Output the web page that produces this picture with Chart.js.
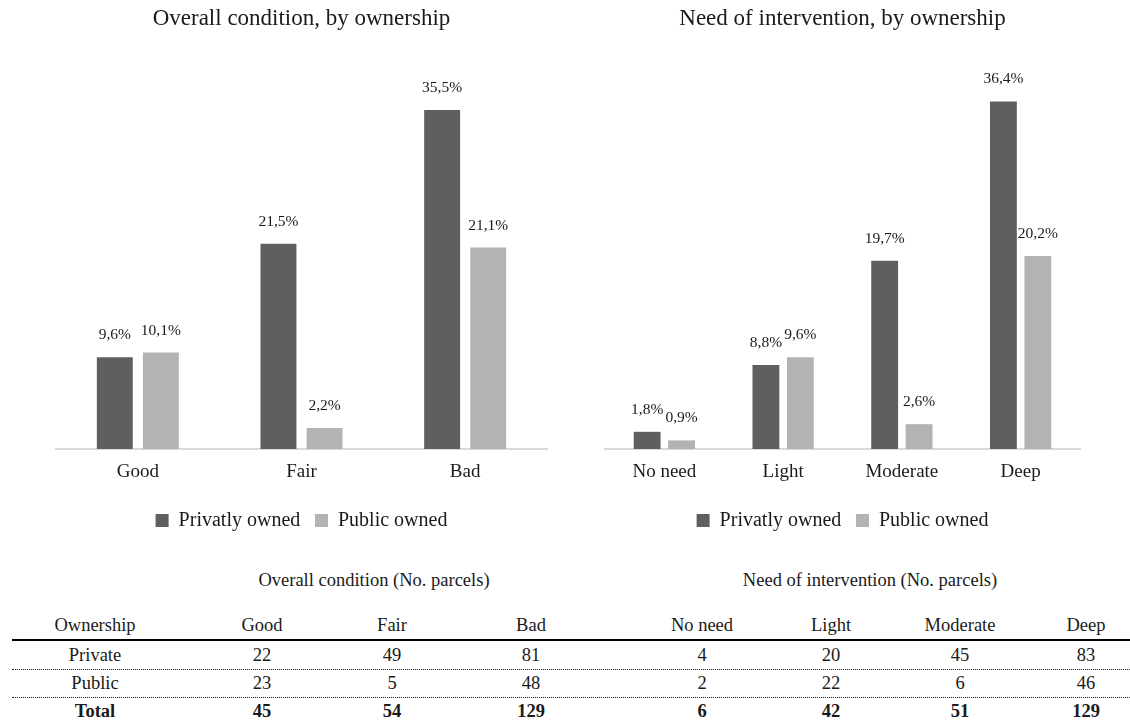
<!DOCTYPE html>
<html>
<head>
<meta charset="utf-8">
<script src="https://cdn.jsdelivr.net/npm/chart.js@4.4.1/dist/chart.umd.min.js"></script>
<style>
  html, body { margin: 0; padding: 0; background: #fff; }
  body { width: 1130px; height: 720px; position: relative; overflow: hidden;
         font-family: "Liberation Serif", serif; color: #1a1a1a; }
  .chart { position: absolute; top: 0; width: 565px; height: 545px; }
  #left { left: 0; }
  #right { left: 565px; }
  .cell { position: absolute; transform: translate(-50%, -50%); white-space: nowrap; font-size: 18.5px; line-height: 1; }
  .bold { font-weight: bold; }
  .rule { position: absolute; left: 12px; right: 0; height: 0; }
  .thick { border-top: 2px solid #000; }
  .dotted { border-top: 1px dotted #222; }
</style>
</head>
<body>
<div class="chart" id="left"><canvas id="condChart" width="565" height="545"></canvas></div>
<div class="chart" id="right"><canvas id="intvChart" width="565" height="545"></canvas></div>
<div id="table"></div>

<script>
// ---- chart data (shares of all parcels, %) ----
const conditionCategories = ['Good', 'Fair', 'Bad'];
const conditionPrivatePct = [9.6, 21.5, 35.5];
const conditionPublicPct  = [10.1, 2.2, 21.1];

const interventionCategories = ['No need', 'Light', 'Moderate', 'Deep'];
const interventionPrivatePct = [1.8, 8.8, 19.7, 36.4];
const interventionPublicPct  = [0.9, 9.6, 2.6, 20.2];

const seriesNames = ['Privatly owned', 'Public owned'];

// ---- table data (number of parcels) ----
const ownershipHeader = 'Ownership';
const tableRowNames = ['Private', 'Public', 'Total'];
const conditionPrivateCount = [22, 49, 81];
const conditionPublicCount  = [23, 5, 48];
const conditionTotalCount   = [45, 54, 129];
const interventionPrivateCount = [4, 20, 45, 83];
const interventionPublicCount  = [2, 22, 6, 46];
const interventionTotalCount   = [6, 42, 51, 129];

const FONT = '"Liberation Serif", serif';
const TEXT = '#1a1a1a';
const DARK = '#5f5f5f';
const LIGHT = '#b3b3b3';

const pctText = v => v.toFixed(1).replace('.', ',') + '%';

// value labels above each bar
const valueLabels = {
  id: 'valueLabels',
  afterDatasetsDraw(chart) {
    const ctx = chart.ctx;
    ctx.save();
    ctx.font = '15.5px ' + FONT;
    ctx.fillStyle = TEXT;
    ctx.textAlign = 'center';
    ctx.textBaseline = 'middle';
    chart.data.datasets.forEach((ds, i) => {
      chart.getDatasetMeta(i).data.forEach((bar, j) => {
        ctx.fillText(pctText(ds.data[j]), bar.x, bar.y - 22);
      });
    });
    ctx.restore();
  }
};

function makeChart(id, title, labels, priv, pub, padLeft, padRight, catPct) {
  return new Chart(document.getElementById(id), {
    type: 'bar',
    data: {
      labels: labels,
      datasets: [
        { label: seriesNames[0], data: priv, backgroundColor: DARK,
          barPercentage: 0.78, categoryPercentage: catPct },
        { label: seriesNames[1], data: pub, backgroundColor: LIGHT,
          barPercentage: 0.78, categoryPercentage: catPct }
      ]
    },
    options: {
      responsive: false,
      animation: false,
      layout: { padding: { left: padLeft, right: padRight, top: 0, bottom: 4.5 } },
      plugins: {
        title: { display: true, text: title, color: TEXT,
                 font: { family: FONT, size: 23, weight: 'normal' },
                 padding: { top: 5, bottom: 34.4 } },
        legend: { position: 'bottom',
                  labels: { boxWidth: 13, boxHeight: 13, padding: 14.7, color: TEXT,
                            font: { family: FONT, size: 20 } } },
        tooltip: { enabled: false }
      },
      scales: {
        x: { grid: { display: false, drawTicks: false },
             border: { display: true, color: '#d9d9d9', width: 2 },
             ticks: { color: TEXT, padding: 12, font: { family: FONT, size: 19 } } },
        y: { display: false, min: 0, max: 40 }
      }
    },
    plugins: [valueLabels]
  });
}

makeChart('condChart', 'Overall condition, by ownership', conditionCategories,
          conditionPrivatePct, conditionPublicPct, 56, 18, 0.563);
makeChart('intvChart', 'Need of intervention, by ownership', interventionCategories,
          interventionPrivatePct, interventionPublicPct, 40, 50, 0.58);

// ---- parcel count table ----
const table = document.getElementById('table');
function cell(text, x, y, bold) {
  const d = document.createElement('div');
  d.className = 'cell' + (bold ? ' bold' : '');
  d.textContent = text;
  d.style.left = x + 'px';
  d.style.top = y + 'px';
  table.appendChild(d);
}
function rule(cls, y) {
  const d = document.createElement('div');
  d.className = 'rule ' + cls;
  d.style.top = y + 'px';
  table.appendChild(d);
}
const ownerX = 95;
const conditionX = [262, 392, 531];
const interventionX = [702, 831, 960, 1086];
const rowY = [655, 683, 711];

cell('Overall condition (No. parcels)', 374, 580);
cell('Need of intervention (No. parcels)', 870, 580);
cell(ownershipHeader, ownerX, 625);
conditionCategories.forEach((c, i) => cell(c, conditionX[i], 625));
interventionCategories.forEach((c, i) => cell(c, interventionX[i], 625));
rule('thick', 639);
rule('dotted', 669);
rule('dotted', 697);

const condRows = [conditionPrivateCount, conditionPublicCount, conditionTotalCount];
const intvRows = [interventionPrivateCount, interventionPublicCount, interventionTotalCount];
tableRowNames.forEach((name, r) => {
  const bold = r === 2;
  cell(name, ownerX, rowY[r], bold);
  condRows[r].forEach((v, i) => cell(String(v), conditionX[i], rowY[r], bold));
  intvRows[r].forEach((v, i) => cell(String(v), interventionX[i], rowY[r], bold));
});
</script>
</body>
</html>
